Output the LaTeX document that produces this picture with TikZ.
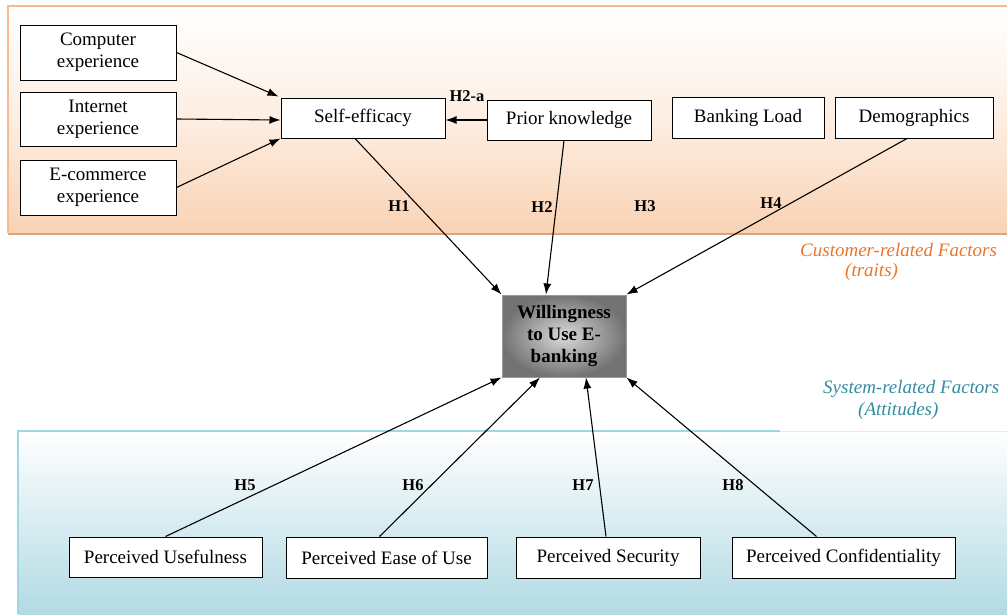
\documentclass[tikz,border=0pt]{standalone}
\usepackage{fontspec}
\setmainfont{Liberation Serif}
\usetikzlibrary{arrows.meta,calc,shadings}
\definecolor{peach}{RGB}{249,210,180}
\definecolor{peachline}{RGB}{248,185,140}
\definecolor{peachshadow}{RGB}{215,165,130}
\definecolor{lblue}{RGB}{178,218,228}
\definecolor{lblueline}{RGB}{160,215,228}
\definecolor{orangetxt}{RGB}{232,118,40}
\definecolor{tealtxt}{RGB}{52,140,160}
\tikzset{
  box/.style={draw=black, line width=1pt, fill=white, inner sep=0pt, align=center, font=\fontsize{19}{22}\selectfont},
  will/.style={draw=gray!80, line width=1pt, inner sep=0pt, align=center, shading=radial, inner color={rgb,255:red,218;green,218;blue,218}, outer color={rgb,255:red,115;green,115;blue,115}, font=\fontsize{19}{22}\selectfont\bfseries},
  conn/.style={line width=1.1pt, -{Latex[length=11pt,width=8pt]}},
  hlab/.style={font=\fontsize{16.5}{18}\selectfont\bfseries, inner sep=0pt},
  factor/.style={font=\fontsize{19}{22}\selectfont\itshape, inner sep=0pt, anchor=west}
}
\begin{document}
\begin{tikzpicture}[x=1pt,y=-1pt]
\useasboundingbox (0,0) rectangle (1007,614);
% panels
\shade[top color=white, bottom color=peach, middle color={rgb,255:red,253;green,238;blue,226}] (8,6) rectangle (1007,233);
\draw[peachline, line width=1.2pt] (8,233) -- (8,6) -- (1007,6);
\draw[peachshadow, line width=2.5pt] (8,234) -- (1007,234);
\shade[top color=white, bottom color=lblue] (18,431) rectangle (1007,614);
\draw[lblueline, line width=1.2pt] (18,614) -- (18,431) -- (780,431);
\draw[lblueline!40, line width=1pt] (780,431) -- (1007,431);
% nodes
\node[box, minimum width=156pt, minimum height=55pt] (comp) at (98,52.5) {Computer\\experience};
\node[box, minimum width=156pt, minimum height=54pt] (inet) at (98,119) {Internet\\experience};
\node[box, minimum width=156pt, minimum height=55pt] (ecom) at (98,187.5) {E-commerce\\experience};
\node[box, minimum width=164pt, minimum height=40pt] (self) at (363,118) {Self-efficacy};
\node[box, minimum width=164pt, minimum height=40pt] (prior) at (569,120) {Prior knowledge};
\node[box, minimum width=152pt, minimum height=41pt] (bank) at (748,117.5) {Banking Load};
\node[box, minimum width=158pt, minimum height=41pt] (demo) at (914,117.5) {Demographics};
\node[will, minimum width=124pt, minimum height=82pt] (will) at (564,336) {Willingness\\to Use E-\\banking};
\node[box, minimum width=193pt, minimum height=40pt] (pu) at (165.5,557) {Perceived Usefulness};
\node[box, minimum width=201pt, minimum height=41pt] (peou) at (386.5,557.5) {Perceived Ease of Use};
\node[box, minimum width=184pt, minimum height=41pt] (ps) at (608,557.5) {Perceived Security};
\node[box, minimum width=223pt, minimum height=41pt] (pc) at (843.5,557.5) {Perceived Confidentiality};
% connectors
\draw[conn] (comp.east) -- ($(self.north west)+(-2,-1)$);
\draw[conn] (inet.east) -- ($(self.west)+(0,2)$);
\draw[conn] (ecom.east) -- (self.south west);
\draw[conn] (prior.west) -- ($(self.east)+(0,2)$);
\draw[conn] ($(self.south)+(-8,0)$) -- (will.north west);
\draw[conn] ($(prior.south)+(-5,0)$) -- ($(will.north)+(-18,0)$);
\draw[conn] ($(demo.south)+(-7,0)$) -- (will.north east);
\draw[conn] (pu.north) -- (will.south west);
\draw[conn] ($(peou.north)+(-7,0)$) -- ($(will.south)+(-24,0)$);
\draw[conn] ($(ps.north)+(-2,0)$) -- ($(will.south)+(22,0)$);
\draw[conn] ($(pc.north)+(-27,0)$) -- (will.south east);
% labels
\node[hlab] (h2a) at (467,96) {H2-a};
\node[hlab] (h1) at (399,206) {H1};
\node[hlab] (h2) at (542,207) {H2};
\node[hlab] (h3) at (645,206) {H3};
\node[hlab] (h4) at (771,203) {H4};
\node[hlab] (h5) at (245,485) {H5};
\node[hlab] (h6) at (413,485) {H6};
\node[hlab] (h7) at (583,485) {H7};
\node[hlab] (h8) at (733,485) {H8};
\node[factor, text=orangetxt] (cf) at (800,250) {Customer-related Factors};
\node[factor, text=orangetxt] (cft) at (845,272) {(traits)};
\node[factor, text=tealtxt] (sf) at (823,389) {System-related Factors};
\node[factor, text=tealtxt] (sft) at (858,411) {(Attitudes)};
\end{tikzpicture}
\end{document}
